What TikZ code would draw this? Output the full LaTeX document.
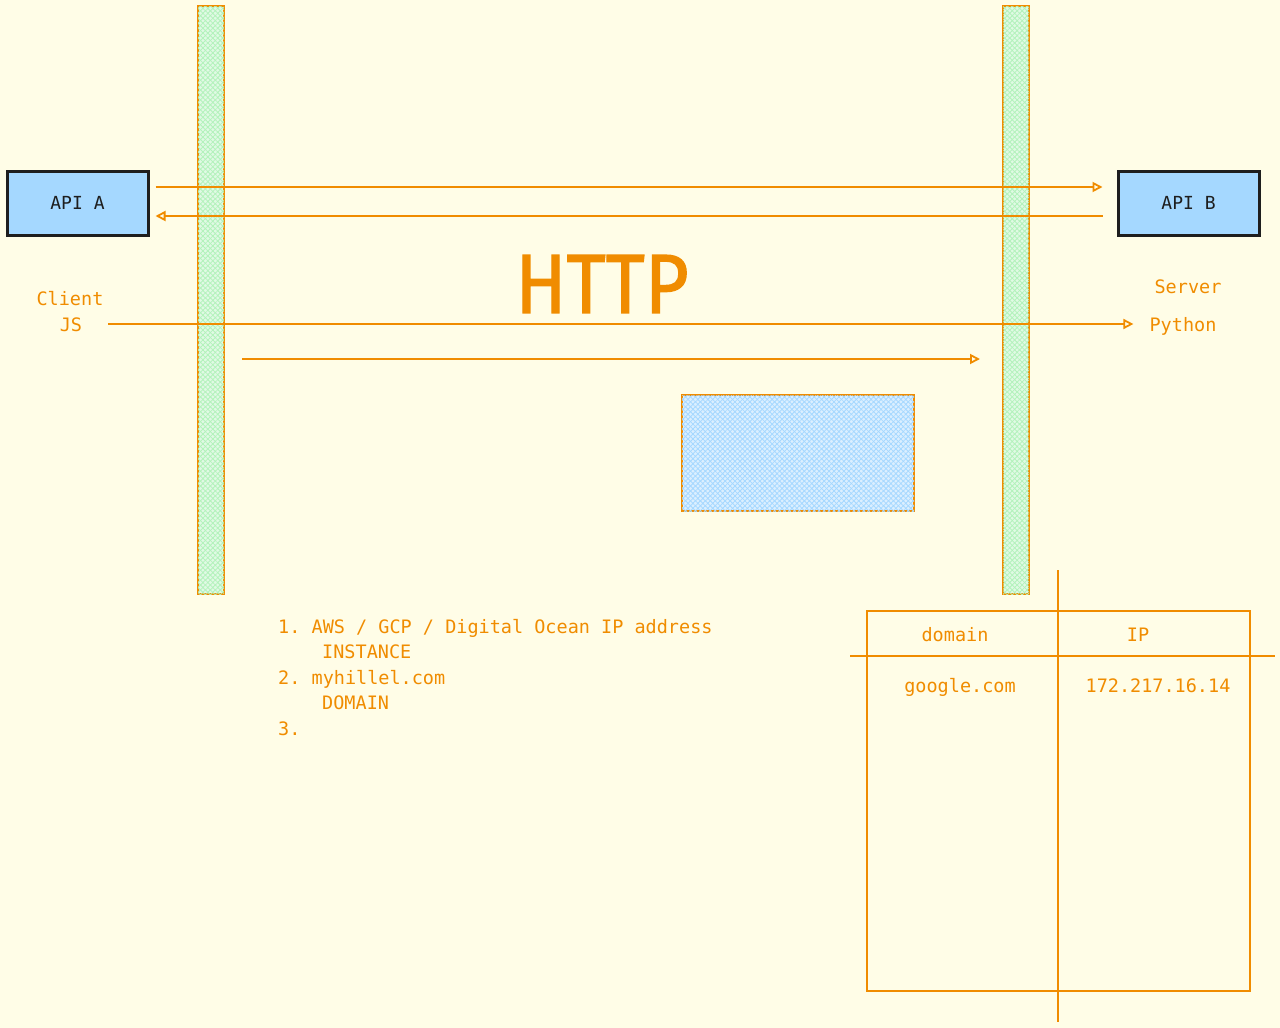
\documentclass[tikz,border=0pt]{standalone}
\usepackage{fontspec}
\setmonofont{DejaVu Sans Mono}
\newfontfamily\httpfont[FakeBold=1.5]{Fira Sans}
\usepackage{xcolor}
\usetikzlibrary{arrows.meta,patterns.meta}
\definecolor{paper}{HTML}{FFFDE7}
\definecolor{orn}{HTML}{F08C00}
\definecolor{skyfill}{HTML}{A5D8FF}
\definecolor{mint}{HTML}{B2F2BB}
\definecolor{ink}{HTML}{1E1E1E}

\begin{document}
\begin{tikzpicture}[x=1pt,y=-1pt,
  lbl/.style={text=orn,font=\ttfamily\fontsize{18.5}{25.5}\selectfont,inner sep=0pt,text height=15pt,text depth=0pt},
  api/.style={draw=ink,line width=3pt,fill=skyfill,minimum width=141pt,minimum height=64pt,
    font=\ttfamily\fontsize{18}{22}\selectfont,text=ink},
  arr/.style={draw=orn,line width=2.4pt,-{Triangle[open,length=10pt,width=10pt,line width=1.8pt]}},
  hatched/.style={draw=orn,line width=2pt,fill=#1!40,
    postaction={pattern={Lines[angle=45,distance=3.5pt,line width=.8pt]},pattern color=#1},
    postaction={pattern={Lines[angle=-45,distance=3.5pt,line width=.8pt]},pattern color=#1}},
  tbl/.style={draw=orn,line width=1.9pt}]
  \fill[paper] (0,0) rectangle (1280,1028);
  \useasboundingbox (0,0) rectangle (1280,1028);

  % the two pillars
  \draw[hatched=mint] (198,6) rectangle (224,594);
  \draw[hatched=mint] (1003,6) rectangle (1029,594);

  \node[api] (apiA) at (77.5,203) {API A};
  \node[api] (apiB) at (1188.5,203) {API B};

  \draw[arr,shorten <=6pt,shorten >=14pt] ([yshift=16pt]apiA.east) -- ([yshift=16pt]apiB.west);
  \draw[arr,shorten <=14pt,shorten >=6pt] ([yshift=-13pt]apiB.west) -- ([yshift=-13pt]apiA.east);

  \node[text=orn,font=\httpfont\fontsize{84}{90}\selectfont,inner sep=0pt] (http) at (602,284)
    {\scalebox{0.9}[1]{HTTP}};

  \node[lbl] (client) at (70,298) {Client};
  \node[lbl] (js) at (71,324) {JS};
  \node[lbl] (server) at (1188,286) {Server};
  \node[lbl] (python) at (1183,324) {Python};
  \draw[arr,shorten <=26pt,shorten >=16pt] (js) -- (python);

  \coordinate (r0) at (242,359);
  \coordinate (r1) at (980,359);
  \draw[arr] (r0) -- (r1);

  \draw[hatched=skyfill,line width=1.4pt] (682,395) rectangle (914,511);

  \node[lbl,anchor=north west,align=left,text height=,text depth=] (steps) at (278,619)
    {1. AWS / GCP / Digital Ocean IP address\\
     \hspace*{44pt}INSTANCE\\
     2. myhillel.com\\
     \hspace*{44pt}DOMAIN\\
     3.};

  % dns table
  \draw[tbl] (867,611) rectangle (1250,991);
  \draw[tbl] (1058,570) -- (1058,1022);
  \draw[tbl] (850,656) -- (1275,656);
  \node[lbl] (colA) at (955,634) {domain};
  \node[lbl] (colB) at (1138,634) {IP};
  \node[lbl] (dom) at (960,685) {google.com};
  \node[lbl] (ip) at (1158,685) {172.217.16.14};
\end{tikzpicture}
\end{document}
